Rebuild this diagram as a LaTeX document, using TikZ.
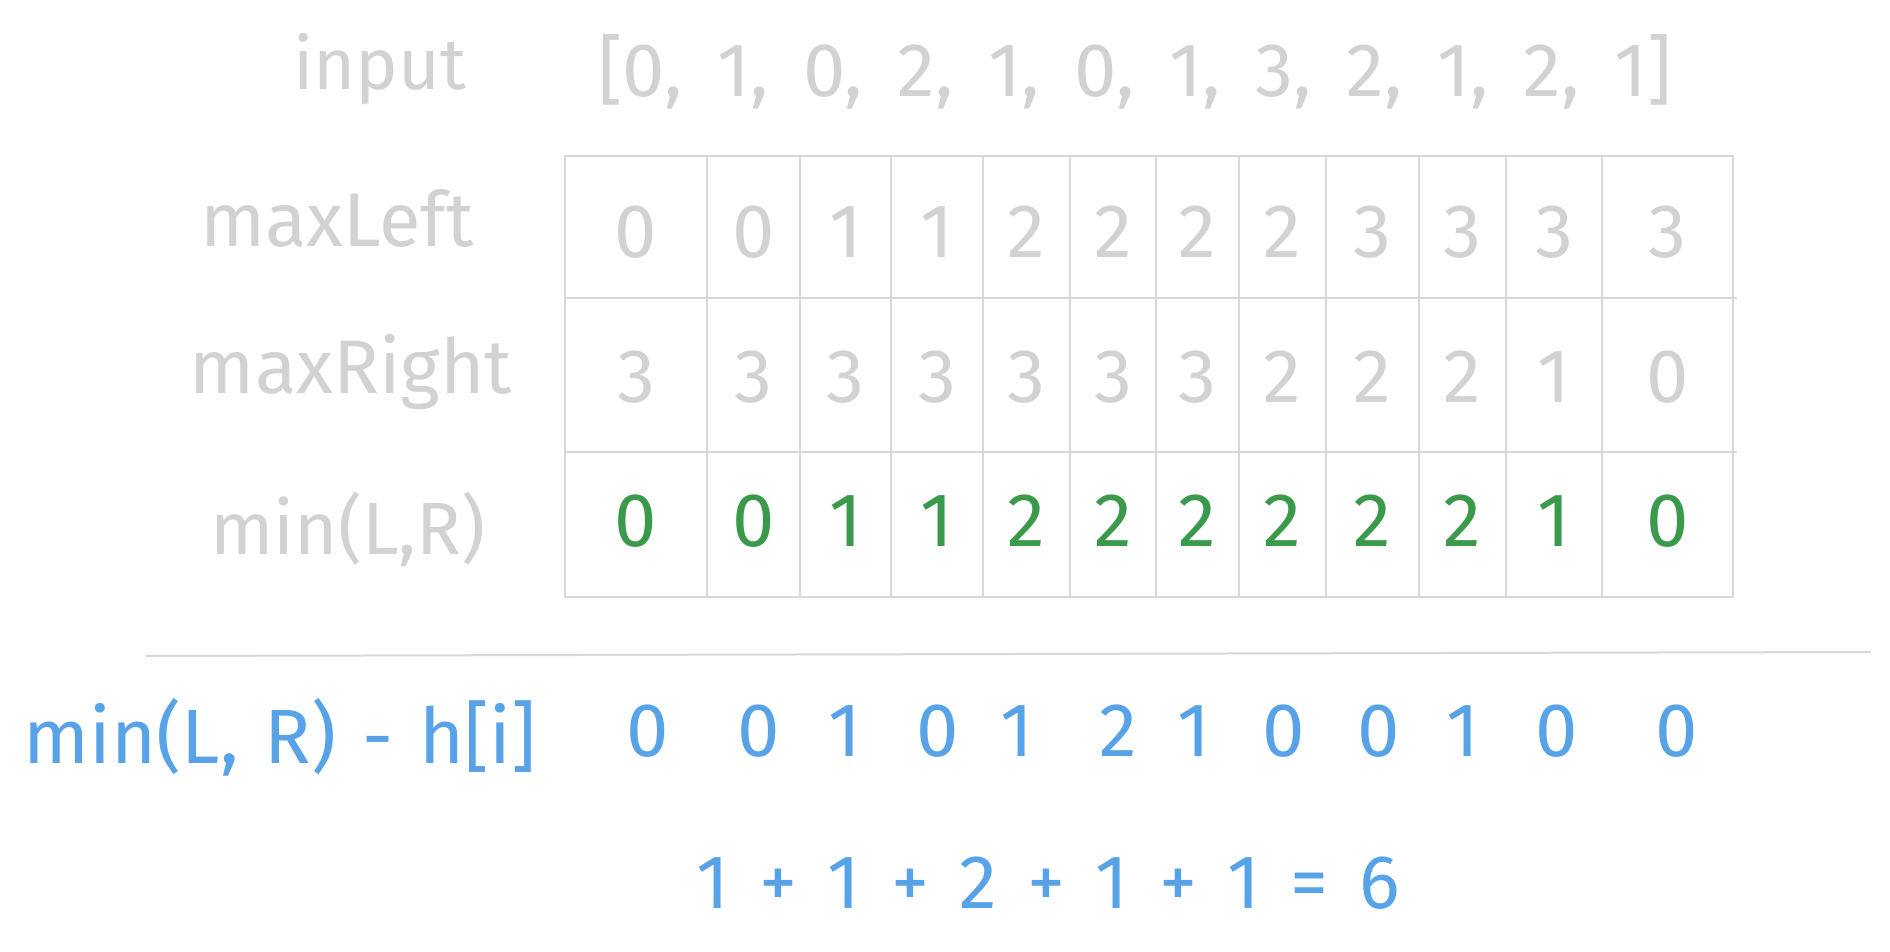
\documentclass[tikz,border=0pt]{standalone}
\usepackage{fontspec}
\setmainfont{Fira Sans}
\definecolor{lg}{RGB}{210,210,210}
\definecolor{gridc}{RGB}{216,216,216}
\definecolor{grn}{RGB}{58,153,74}
\definecolor{blu}{RGB}{88,163,231}
\newcommand\mywidespace[1]{\spaceskip=#1\relax}
\tikzset{
  lbl/.style={text=lg, font=\fontsize{74}{80}\selectfont, anchor=base, inner sep=0pt},
  dig/.style={text=lg, font=\fontsize{76}{80}\selectfont, anchor=base, inner sep=0pt},
  gdig/.style={dig, text=grn},
  bdig/.style={dig, text=blu},
  blbl/.style={lbl, text=blu},
  gridline/.style={draw=gridc, line width=2pt},
}
\begin{document}
\begin{tikzpicture}[x=1pt,y=-1pt]
\useasboundingbox[fill=white] (0,0) rectangle (1890,952);
% labels
\node[lbl, font=\fontsize{72}{80}\selectfont] (input) at (380,90) {input};
\node[dig] (list) at (1135,97) {\mywidespace{0.46em}[0, 1, 0, 2, 1, 0, 1, 3, 2, 1, 2, 1]};
\node[lbl, font=\fontsize{76}{80}\selectfont] (maxleft) at (337,247) {maxLeft};
\node[lbl, font=\fontsize{76}{80}\selectfont] (maxright) at (351,393) {maxRight};
\node[lbl] (minlr) at (348,554) {min(L,R)};
\node[blbl, font=\fontsize{77}{80}\selectfont] (diff) at (280,763) {\mywidespace{0.34em}min(L, R) - h[i]};
% table
\coordinate (tl) at (565,156);
\coordinate (br) at (1733,597);
\draw[gridline] (tl) rectangle (br);
\foreach \y in {298,452} \draw[gridline] (565,\y) -- (1737,\y);
\foreach \x in {707,800,891,983,1070,1156,1239,1326,1419,1506,1602} \draw[gridline] (\x,156) -- (\x,597);
\foreach \x/\a/\b/\c [count=\i] in {636/0/3/0, 753.5/0/3/0, 845.5/1/3/1, 937/1/3/1, 1026.5/2/3/2, 1113/2/3/2, 1197.5/2/3/2, 1282.5/2/2/2, 1372.5/3/2/2, 1462.5/3/2/2, 1554/3/1/1, 1667.5/3/0/0} {
  \node[dig] (ml\i) at (\x,257) {\a};
  \node[dig] (mr\i) at (\x,402) {\b};
  \node[gdig] (mn\i) at (\x,546) {\c};
}
% separator
\coordinate (hl1) at (146,656);
\coordinate (hl2) at (1871,652);
\draw[gridline] (hl1) -- (hl2);
% differences
\foreach \x/\v [count=\i] in {648/0, 759/0, 845/1, 938/0, 1017/1, 1118/2, 1194/1, 1284/0, 1379/0, 1463/1, 1557/0, 1677/0} {
  \node[bdig] (d\i) at (\x,756) {\v};
}
\node[bdig] (sum) at (1048,908) {\mywidespace{0.4em}1 + 1 + 2 + 1 + 1 = 6};
\end{tikzpicture}
\end{document}
